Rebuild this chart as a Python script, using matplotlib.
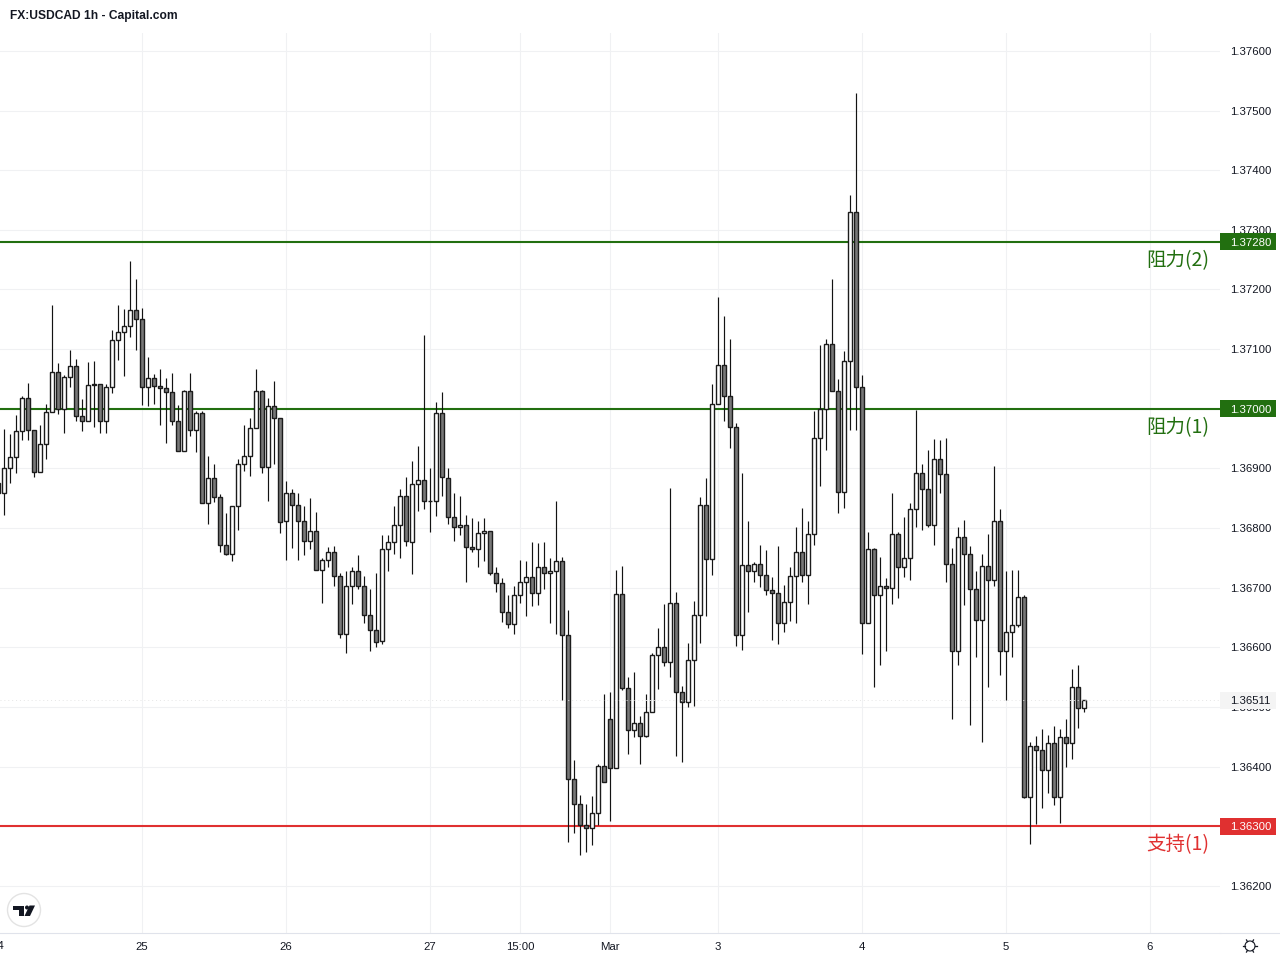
import matplotlib
matplotlib.use("Agg")
import matplotlib.pyplot as plt
import numpy as np
from matplotlib.patches import Circle, Polygon, Rectangle

# hourly candles in 1e-5 price units, first one sits just off the left edge
open_pts = [136875, 136859, 136901, 136919, 136963, 137018, 136964, 136894, 136941, 136994, 137061, 136999,
            137053, 137072, 136988, 136979, 137041, 137041, 136979, 137036, 137115, 137129, 137139, 137165,
            137150, 137036, 137051, 137038, 137035, 137028, 136979, 136929, 137030, 136964, 136993, 136842,
            136884, 136852, 136771, 136756, 136837, 136907, 136921, 136968, 137030, 136902, 137004, 136984,
            136811, 136859, 136839, 136812, 136778, 136795, 136730, 136746, 136760, 136720, 136622, 136703,
            136728, 136703, 136654, 136629, 136611, 136765, 136777, 136805, 136854, 136777, 136874, 136880,
            136845, 136845, 136993, 136884, 136818, 136802, 136805, 136768, 136765, 136792, 136795, 136725,
            136708, 136659, 136639, 136688, 136709, 136718, 136691, 136735, 136725, 136728, 136745, 136620,
            136379, 136337, 136302, 136297, 136323, 136401, 136479, 136397, 136689, 136531, 136461, 136473,
            136452, 136491, 136587, 136600, 136575, 136674, 136525, 136508, 136578, 136655, 136839, 136748,
            137008, 137073, 137021, 136969, 136621, 136738, 136728, 136740, 136721, 136696, 136691, 136641,
            136676, 136720, 136760, 136721, 136790, 136951, 137000, 137108, 137030, 136860, 137080, 137330,
            137036, 136641, 136765, 136688, 136703, 136699, 136790, 136735, 136750, 136832, 136892, 136865,
            136805, 136916, 136890, 136740, 136594, 136785, 136756, 136698, 136646, 136736, 136713, 136812,
            136594, 136626, 136637, 136684, 136349, 136435, 136428, 136394, 136440, 136349, 136450, 136440,
            136533, 136498]
high_pts = [136890, 136966, 136958, 136990, 137021, 137043, 136964, 136972, 137008, 137174, 137077, 137056,
            137099, 137084, 137017, 137079, 137080, 137041, 137041, 137132, 137174, 137168, 137248, 137218,
            137169, 137087, 137059, 137067, 137052, 137060, 137007, 137032, 137060, 136996, 136996, 136921,
            136908, 136857, 136826, 136837, 136915, 136973, 136985, 137067, 137031, 137018, 137047, 136984,
            136879, 136865, 136859, 136837, 136851, 136827, 136749, 136769, 136770, 136725, 136728, 136735,
            136755, 136720, 136698, 136725, 136789, 136789, 136837, 136866, 136886, 136913, 136938, 137124,
            136901, 137012, 137028, 136901, 136859, 136853, 136822, 136817, 136812, 136817, 136795, 136734,
            136717, 136688, 136702, 136747, 136744, 136777, 136775, 136777, 136749, 136846, 136751, 136663,
            136411, 136352, 136337, 136351, 136404, 136522, 136525, 136730, 136736, 136551, 136558, 136484,
            136521, 136590, 136632, 136672, 136867, 136692, 136535, 136608, 136678, 136852, 136884, 137042,
            137188, 137155, 137117, 136976, 136893, 136812, 136743, 136772, 136763, 136718, 136770, 136705,
            136735, 136801, 136834, 136812, 136997, 137107, 137117, 137218, 137050, 137097, 137359, 137530,
            137056, 136793, 136767, 136751, 136717, 136858, 136793, 136819, 136842, 136998, 136908, 136931,
            136950, 136948, 136951, 136767, 136801, 136814, 136770, 136728, 136756, 136790, 136904, 136832,
            136728, 136730, 136730, 136687, 136441, 136451, 136463, 136453, 136468, 136463, 136480, 136563,
            136571, 136512]
low_pts = [136850, 136822, 136875, 136893, 136948, 136948, 136885, 136894, 136915, 136994, 136992, 136960,
           137037, 136980, 136962, 136979, 136970, 136960, 136960, 137027, 137082, 137055, 137121, 137099,
           137007, 137005, 137008, 136972, 136943, 136973, 136929, 136929, 136955, 136928, 136842, 136807,
           136844, 136759, 136754, 136744, 136797, 136895, 136888, 136968, 136892, 136846, 136908, 136791,
           136746, 136767, 136747, 136755, 136765, 136730, 136675, 136734, 136703, 136615, 136590, 136673,
           136697, 136640, 136593, 136600, 136605, 136728, 136757, 136750, 136770, 136723, 136829, 136832,
           136793, 136821, 136854, 136806, 136779, 136789, 136710, 136760, 136734, 136744, 136721, 136692,
           136643, 136632, 136622, 136675, 136653, 136670, 136671, 136697, 136641, 136622, 136511, 136273,
           136288, 136251, 136256, 136269, 136302, 136375, 136308, 136397, 136528, 136421, 136449, 136404,
           136449, 136491, 136530, 136569, 136550, 136418, 136408, 136500, 136502, 136607, 136652, 136721,
           137008, 136980, 136934, 136603, 136596, 136660, 136709, 136701, 136687, 136612, 136605, 136625,
           136644, 136640, 136709, 136672, 136772, 136870, 136931, 137030, 136825, 136833, 136965, 136965,
           136588, 136641, 136533, 136571, 136594, 136673, 136683, 136718, 136713, 136801, 136797, 136802,
           136772, 136859, 136710, 136480, 136571, 136671, 136470, 136584, 136441, 136533, 136703, 136554,
           136512, 136584, 136634, 136347, 136270, 136303, 136330, 136355, 136335, 136305, 136399, 136412,
           136464, 136491]
close_pts = [136859, 136901, 136919, 136963, 137018, 136964, 136894, 136941, 136994, 137061, 136999, 137053,
             137072, 136988, 136979, 137040, 137040, 136979, 137036, 137115, 137129, 137139, 137165, 137150,
             137036, 137051, 137038, 137035, 137028, 136979, 136929, 137030, 136964, 136993, 136842, 136884,
             136852, 136771, 136756, 136837, 136907, 136921, 136968, 137030, 136902, 137004, 136984, 136810,
             136859, 136839, 136812, 136778, 136795, 136730, 136746, 136760, 136720, 136622, 136703, 136728,
             136703, 136654, 136629, 136609, 136765, 136777, 136805, 136854, 136778, 136874, 136880, 136845,
             136845, 136993, 136885, 136818, 136802, 136805, 136768, 136765, 136792, 136795, 136725, 136708,
             136659, 136639, 136688, 136709, 136718, 136691, 136735, 136725, 136728, 136745, 136620, 136379,
             136337, 136302, 136297, 136323, 136401, 136375, 136397, 136689, 136531, 136461, 136473, 136452,
             136491, 136587, 136600, 136575, 136674, 136525, 136508, 136578, 136655, 136838, 136748, 137008,
             137073, 137021, 136969, 136621, 136738, 136728, 136740, 136721, 136696, 136691, 136641, 136676,
             136720, 136760, 136721, 136790, 136951, 137000, 137108, 137030, 136860, 137080, 137330, 137036,
             136641, 136765, 136688, 136703, 136699, 136790, 136735, 136750, 136832, 136892, 136865, 136805,
             136916, 136890, 136740, 136594, 136785, 136756, 136698, 136646, 136736, 136713, 136812, 136594,
             136626, 136637, 136684, 136349, 136435, 136428, 136394, 136440, 136349, 136450, 136440, 136533,
             136498, 136511]

date_ticks = [23, 47, 71, 86, 101, 119, 143, 167, 191]
date_labels = ["25", "26", "27", "15:00", "Mar", "3", "4", "5", "6"]
price_ticks = [1.362, 1.363, 1.364, 1.365, 1.366, 1.367, 1.368, 1.369, 1.370, 1.371, 1.372, 1.373, 1.374, 1.375, 1.376]
level_prices = [1.3728, 1.37, 1.363]
level_labels = ["阻力(2)", "阻力(1)", "支持(1)"]
level_colors = ["#226f10", "#226f10", "#e03030"]
last_price = 1.36511

o = np.array(open_pts) / 1e5
h = np.array(high_pts) / 1e5
l = np.array(low_pts) / 1e5
c = np.array(close_pts) / 1e5
x = np.arange(len(o)) - 1

plt.rcParams['font.family'] = ['Liberation Sans', 'DejaVu Sans']
ink = "#131722"
grid_col = "#f0f1f3"

fig = plt.figure(figsize=(12.8, 9.6), dpi=100)
ax = fig.add_axes([0, 27 / 960, 1220 / 1280, 900 / 960])
ax.set_xlim(-4 / 6, 1216 / 6)
ax.set_ylim(1.36121, 1.37630)

for s in ["top", "left", "right"]:
    ax.spines[s].set_visible(False)
ax.spines["bottom"].set_color("#e0e3eb")
ax.set_axisbelow(True)
ax.grid(True, color=grid_col, lw=0.8)

ax.set_xticks(date_ticks, date_labels)
ax.set_yticks(price_ticks, [f"{p:.5f}" for p in price_ticks])
ax.yaxis.tick_right()
ax.tick_params(axis="both", length=0, labelsize=8.2, labelcolor=ink)
ax.tick_params(axis="x", pad=6.5)
ax.tick_params(axis="y", pad=7.5)
# the 24 label centre is off the canvas, only its last digit shows
ax.text(-1, -13 / 900, "24", transform=ax.get_xaxis_transform(), ha="center", va="center",
        fontsize=8.2, color=ink, clip_on=False)

for price, col in zip(level_prices, level_colors):
    ax.axhline(price, color=col, lw=1.5, zorder=1)

up = c >= o
ax.vlines(x, l, h, color="#131313", lw=0.85, zorder=2)
ax.bar(x[up], (c - o)[up], bottom=o[up], width=0.58, facecolor="white", edgecolor="#1c1c1c", lw=1.0, zorder=3)
ax.bar(x[~up], (c - o)[~up], bottom=o[~up], width=0.58, facecolor="#787878", edgecolor="#1c1c1c", lw=1.0, zorder=3)
ax.axhline(last_price, color="#e6e6e6", lw=0.7, ls=(0, (1, 3)), zorder=4)

# price tags in the right scale
tag_w = 56 / 1220
tag_h = 17 * (1.37630 - 1.36121) / 900
trans = ax.get_yaxis_transform()
for price, col in zip(level_prices, level_colors):
    ax.add_patch(Rectangle((1, price - tag_h / 2), tag_w, tag_h, transform=trans, color=col, lw=0,
                           clip_on=False, zorder=5))
    ax.text(1 + 10.5 / 1220, price, f"{price:.5f}", transform=trans, color="white", fontsize=8.2,
            va="center_baseline", clip_on=False, zorder=6)
ax.add_patch(Rectangle((1, last_price - tag_h / 2), tag_w, tag_h, transform=trans, color="#f4f4f4", lw=0,
                       clip_on=False, zorder=5))
ax.text(1 + 10.5 / 1220, last_price, f"{last_price:.5f}", transform=trans, color=ink, fontsize=8.2,
        va="center_baseline", clip_on=False, zorder=6)

# level names under each line
for price, name, col in zip(level_prices, level_labels, level_colors):
    ax.annotate(name, (1, price), xycoords=trans, xytext=(-7.5, -13.5), textcoords="offset points", ha="right",
                va="center", color=col, fontsize=14, family=["Noto Sans CJK SC", "DejaVu Sans"], zorder=6,
                annotation_clip=False)

# overlay in pixel coordinates for header, logo and gear
top = fig.add_axes([0, 0, 1, 1], zorder=10)
top.set_xlim(0, 1280)
top.set_ylim(960, 0)
top.axis("off")
top.patch.set_alpha(0)
top.text(10, 15.5, "FX:USDCAD 1h - Capital.com", fontsize=8.65, fontweight="bold", color=ink, va="center")
top.plot([1220, 1280], [932.5, 932.5], color="#e0e3eb", lw=0.8)

top.add_patch(Circle((24, 910), 16.5, facecolor="white", edgecolor="#e3e3e3", lw=1))
top.add_patch(Polygon([(13, 905.5), (23.5, 905.5), (23.5, 916), (18.5, 916), (18.5, 910), (13, 910)], color="#131722", lw=0))
top.add_patch(Circle((27, 907.5), 2, color="#131722", lw=0))
top.add_patch(Polygon([(29.5, 905.5), (35, 905.5), (30, 916), (24.5, 916)], color="#131722", lw=0))

top.add_patch(Circle((1250, 946), 5, facecolor="white", edgecolor="#131722", lw=0.8))
for a in np.deg2rad(np.arange(0, 360, 60)):
    top.plot([1250 + 5 * np.cos(a), 1250 + 7 * np.cos(a)], [946 + 5 * np.sin(a), 946 + 7 * np.sin(a)],
             color="#131722", lw=0.9)

fig.savefig("out.png", dpi=100)
